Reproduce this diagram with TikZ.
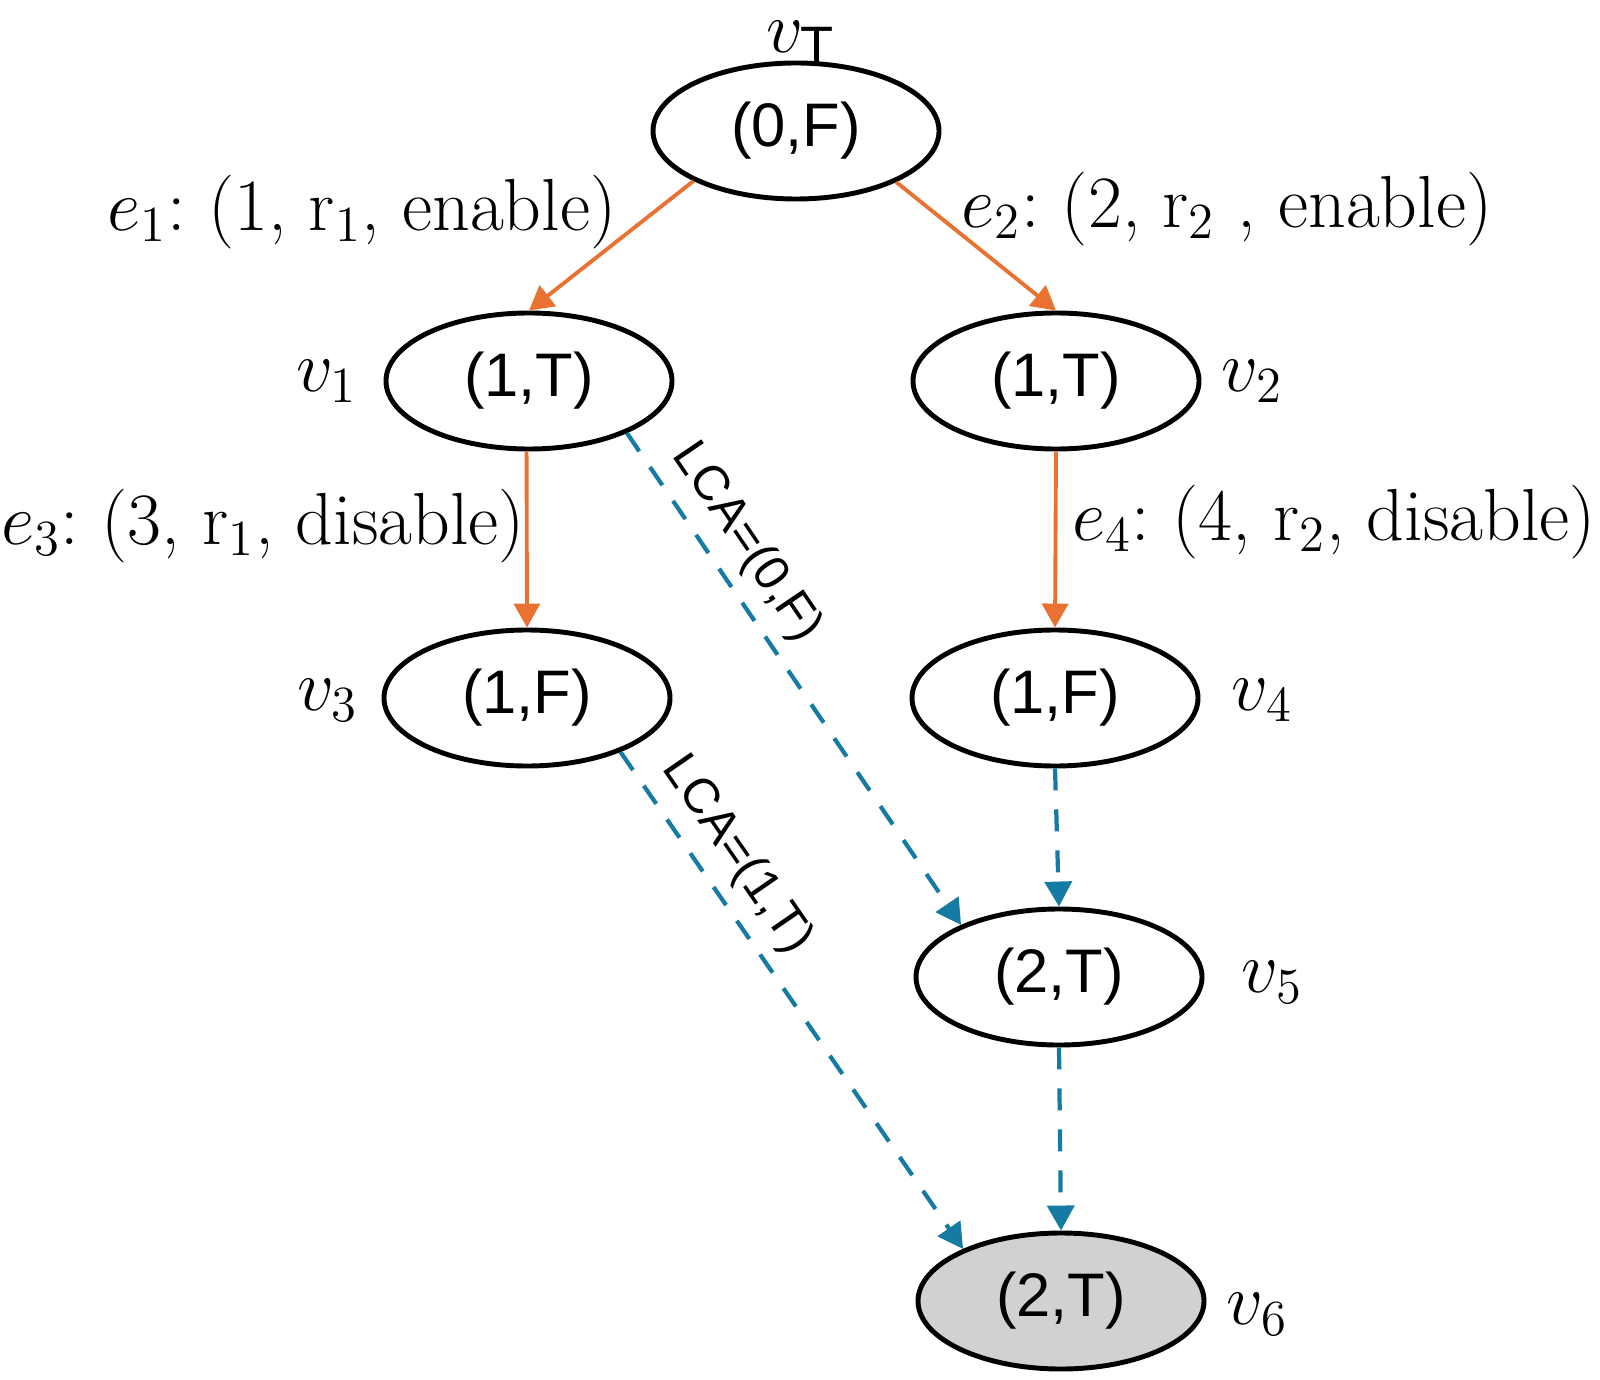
\documentclass[tikz,border=0pt]{standalone}
\usepackage{amsmath}
\usepackage{fontspec}
\setsansfont{Liberation Sans}
\usepackage{tikz}
\usetikzlibrary{shapes.geometric, arrows.meta}
\definecolor{edgeorange}{HTML}{E97132}
\definecolor{lcablue}{HTML}{157BA2}
\frenchspacing

\begin{document}
\begin{tikzpicture}[every node/.style = {inner sep = 0pt},
    state/.style = {draw = black, shape = ellipse, line width = 1.4pt, minimum width = 2.86cm, minimum height = 1.36cm, font = \sffamily\fontsize{17.5}{21}\selectfont},
    vlab/.style = {font = \fontsize{22}{26}\selectfont},
    elab/.style = {font = \fontsize{21}{25}\selectfont},
    trans/.style = {draw = edgeorange, line width = 1.1pt, -{Triangle[length = .24cm, width = .26cm]}},
    lca/.style = {draw = lcablue, line width = 1.2pt, dash pattern = on .22cm off .19cm, -{Triangle[length = .25cm, width = .27cm]}},
    lcalab/.style = {font = \sffamily\fontsize{14}{17}\selectfont, sloped, above, inner sep = 3.5pt}]
    \useasboundingbox (0, 0) rectangle (16, 13.79);
	% states
    	\node[state] (vT) at (7.96, 12.48) {(0,F)};
    	\node[state] (v1) at (5.29, 9.98) {(1,T)};
    	\node[state] (v2) at (10.56, 9.98) {(1,T)};
    	\node[state] (v3) at (5.27, 6.81) {(1,F)};
    	\node[state] (v4) at (10.55, 6.81) {(1,F)};
    	\node[state] (v5) at (10.59, 4.02) {(2,T)};
    	\node[state, fill = black!18] (v6) at (10.61, 0.78) {(2,T)};
	% names
    	\node[vlab] (nT) at (8.01, 13.36) {$v_{\textsf{T}}$};
    	\node[vlab] (n1) at (3.27, 9.98) {$v_1$};
    	\node[vlab] (n2) at (12.52, 9.98) {$v_2$};
    	\node[vlab] (n3) at (3.28, 6.79) {$v_3$};
    	\node[vlab] (n4) at (12.62, 6.79) {$v_4$};
    	\node[vlab] (n5) at (12.72, 3.97) {$v_5$};
    	\node[vlab] (n6) at (12.57, 0.65) {$v_6$};
	% events
    	\node[elab] (e1) at (3.62, 11.67) {$e_1$: (1, r$_1$, enable)};
    	\node[elab] (e2) at (12.27, 11.70) {$e_2$: (2, r$_2$ , enable)};
    	\node[elab] (e3) at (2.63, 8.53) {$e_3$: (3, r$_1$, disable)};
    	\node[elab] (e4) at (13.34, 8.57) {$e_4$: (4, r$_2$, disable)};
	% edges
    \draw[trans] (vT.206) -- (v1.north);
    \draw[trans] (vT.-27) -- (v2.north);
    \draw[trans] (v1.-92) -- (v3.north);
    \draw[trans] (v2.south) -- (v4.north);
    \draw[lca] (v1.-28) -- node[lcalab, pos = .265] {LCA=(0,F)} (v5.152);
    \draw[lca] (v3.-30) -- node[lcalab, pos = .25] {LCA=(1,T)} (v6.152);
    \draw[lca] (v4.south) -- (v5.north);
    \draw[lca] (v5.south) -- (v6.north);
    \end{tikzpicture}
\end{document}
